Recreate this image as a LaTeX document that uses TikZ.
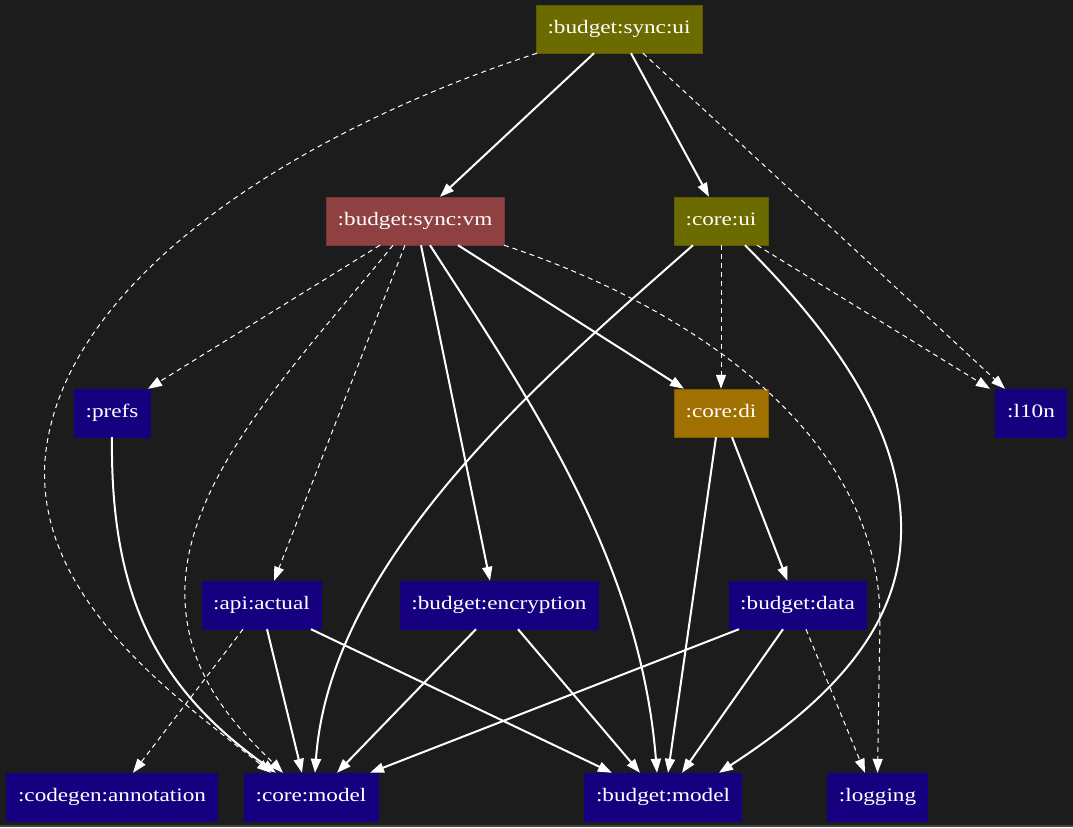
\documentclass[tikz,border=0pt]{standalone}
\usepackage{fontspec}
\setmainfont{Liberation Serif}[FakeStretch=1.22]
\usepackage{tikz}
\usetikzlibrary{arrows.meta,calc}
\usepackage{xcolor}

\definecolor{bgdark}{HTML}{1C1C1C}
\definecolor{olivebox}{HTML}{6B6B00}
\definecolor{vmbox}{HTML}{8F4040}
\definecolor{dibox}{HTML}{A07000}
\definecolor{navybox}{HTML}{170080}

\begin{document}
\begin{tikzpicture}[
  x=1pt, y=-1pt,
  every node/.style={draw, minimum height=48pt, inner xsep=11.5pt, text height=13pt, text depth=4pt, text=white, font=\fontsize{19}{22}\selectfont},
  olv/.style={fill=olivebox, draw=olivebox!85!black},
  vm/.style={fill=vmbox, draw=vmbox!85!black},
  di/.style={fill=dibox, draw=dibox!80!black},
  mod/.style={fill=navybox, draw=navybox},
  arr/.style={-{Triangle[length=14pt,width=10pt]}, white, line width=2pt},
  dep/.style={-{Triangle[length=14pt,width=10pt]}, white, line width=1pt, dash pattern=on 5pt off 4pt}
]
  \fill[bgdark] (0,0) rectangle (1073,827);
  \fill[black!75] (0,825) rectangle (1073,827);
  \useasboundingbox (0,0) rectangle (1073,827);

  \node[olv] (syncui) at (619,29) {:budget:sync:ui};

  \node[vm] (syncvm) at (415,221) {:budget:sync:vm};
  \node[olv] (coreui) at (721,221) {:core:ui};

  \node[mod] (prefs) at (112,413) {:prefs};
  \node[di] (coredi) at (721,413) {:core:di};
  \node[mod] (l10n) at (1031,413) {:l10n};

  \node[mod] (apiactual) at (261.5,605) {:api:actual};
  \node[mod] (encryption) at (499,605) {:budget:encryption};
  \node[mod] (budgetdata) at (797.5,605) {:budget:data};

  \node[mod] (codegen) at (112,797) {:codegen:annotation};
  \node[mod] (coremodel) at (311,797) {:core:model};
  \node[mod] (budgetmodel) at (663,797) {:budget:model};
  \node[mod] (logging) at (877.5,797) {:logging};

  % from :budget:sync:ui
  \draw[arr] ([xshift=-25pt]syncui.south) -- ([xshift=25pt]syncvm.north);
  \draw[arr] ([xshift=12pt]syncui.south) -- ([xshift=-12pt]coreui.north);
  \draw[dep] ([xshift=-82pt]syncui.south) .. controls (300,130) and (60,280) .. (45,460)
    .. controls (35,600) and (180,700) .. ([xshift=-40pt]coremodel.north);
  \draw[dep] ([xshift=24pt]syncui.south) -- ([xshift=-26pt]l10n.north);

  % from :budget:sync:vm
  \draw[dep] ([xshift=-35pt]syncvm.south) -- ([xshift=36pt]prefs.north);
  \draw[dep] ([xshift=-22pt]syncvm.south) .. controls (300,360) and (180,480) .. (185,600)
    .. controls (188,680) and (240,730) .. ([xshift=-28pt]coremodel.north);
  \draw[dep] ([xshift=-10pt]syncvm.south) -- ([xshift=12.5pt]apiactual.north);
  \draw[arr] ([xshift=6pt]syncvm.south) -- ([xshift=-9pt]encryption.north);
  \draw[arr] ([xshift=15pt]syncvm.south) .. controls (530,400) and (640,560) .. ([xshift=-6pt]budgetmodel.north);
  \draw[arr] ([xshift=43pt]syncvm.south) -- ([xshift=-37pt]coredi.north);
  \draw[dep] (syncvm.south east) .. controls (700,310) and (880,440) .. (880,620) -- (logging.north);

  % from :core:ui
  \draw[arr] ([xshift=-28pt]coreui.south) .. controls (540,380) and (330,560) .. ([xshift=4pt]coremodel.north);
  \draw[dep] (coreui.south) -- (coredi.north);
  \draw[arr] ([xshift=24pt]coreui.south) .. controls (850,350) and (910,450) .. (900,550)
    .. controls (890,650) and (800,720) .. ([xshift=56pt]budgetmodel.north);
  \draw[dep] ([xshift=36pt]coreui.south) -- ([xshift=-41pt]l10n.north);

  % middle rows
  \draw[arr] (prefs.south) .. controls (110,600) and (160,690) .. ([xshift=-35pt]coremodel.north);
  \draw[arr] ([xshift=-5pt]coredi.south) -- ([xshift=5pt]budgetmodel.north);
  \draw[arr] ([xshift=11pt]coredi.south) -- ([xshift=-10pt]budgetdata.north);

  \draw[dep] ([xshift=-18.5pt]apiactual.south) -- ([xshift=21pt]codegen.north);
  \draw[arr] ([xshift=5.5pt]apiactual.south) -- ([xshift=-9pt]coremodel.north);
  \draw[arr] ([xshift=49.5pt]apiactual.south) -- ([xshift=-51pt]budgetmodel.north);
  \draw[arr] ([xshift=-23pt]encryption.south) -- ([xshift=26pt]coremodel.north);
  \draw[arr] ([xshift=19pt]encryption.south) -- ([xshift=-23pt]budgetmodel.north);
  \draw[arr] ([xshift=-58.5pt]budgetdata.south) -- ([xshift=59pt]coremodel.north);
  \draw[arr] ([xshift=-14.5pt]budgetdata.south) -- ([xshift=19pt]budgetmodel.north);
  \draw[dep] ([xshift=8.5pt]budgetdata.south) -- ([xshift=-12.5pt]logging.north);
\end{tikzpicture}
\end{document}
